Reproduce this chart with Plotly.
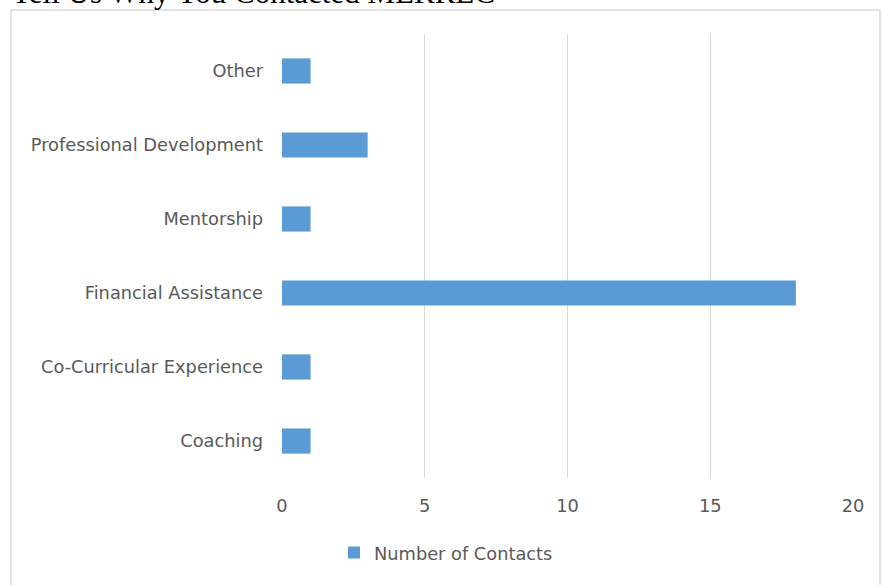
import plotly.graph_objects as go

categories = ["Coaching", "Co-Curricular Experience", "Financial Assistance",
              "Mentorship", "Professional Development", "Other"]
values = [1, 1, 18, 1, 3, 1]
series_name = "Number of Contacts"
title_text = "Tell Us Why You Contacted MERREC"
x_ticks = [0, 5, 10, 15, 20]

W, H = 883, 585
L, R, T, B = 282, 30, 34, 107
pw, ph = W - L - R, H - T - B

def px_x(p):
    return (p - L) / pw

def px_y(p):
    return (H - B - p) / ph

fig = go.Figure()
fig.add_trace(go.Bar(
    y=categories, x=values, orientation="h", name=series_name,
    marker=dict(color="#5b9bd5", line=dict(width=0)),
    width=0.34, showlegend=True,
))

fig.update_layout(
    width=W, height=H,
    margin=dict(l=L, r=R, t=T, b=B),
    paper_bgcolor="white", plot_bgcolor="white",
    font=dict(family="DejaVu Sans, sans-serif", size=17.8, color="#595959"),
    xaxis=dict(range=[0, 20], tickvals=x_ticks, showgrid=True, gridcolor="#d9d9d9",
               gridwidth=1, zeroline=False, showline=False, ticks="",
               ticklabelstandoff=15, fixedrange=True),
    yaxis=dict(categoryorder="array", categoryarray=categories, showgrid=False,
               zeroline=False, showline=False, ticks="", ticklabelstandoff=18,
               fixedrange=True),
    showlegend=True,
    legend=dict(orientation="h", x=px_x(446), xanchor="center", y=px_y(553),
                yanchor="middle", font=dict(size=17.8, color="#595959"),
                itemwidth=30, bgcolor="rgba(0,0,0,0)"),
    shapes=[dict(type="rect", xref="paper", yref="paper",
                 x0=px_x(11), x1=px_x(880), y0=px_y(600), y1=px_y(10),
                 line=dict(color="#d9d9d9", width=1.5), layer="below")],
    annotations=[dict(text=title_text, xref="paper", yref="paper",
                      x=px_x(10), y=px_y(-8), xanchor="left", yanchor="middle",
                      showarrow=False,
                      font=dict(family="Liberation Serif, serif", size=31, color="black"))],
)

fig.write_html("out.html")
